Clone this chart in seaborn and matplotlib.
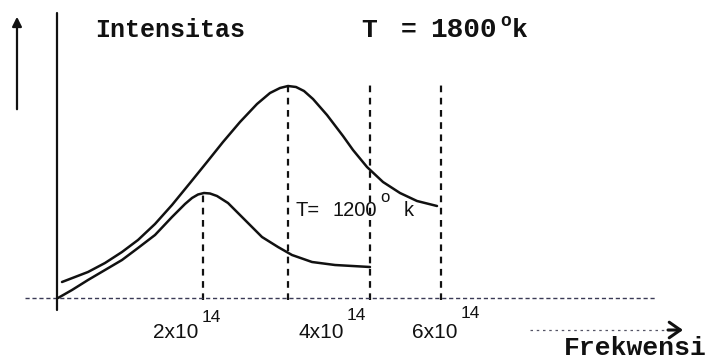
import matplotlib
matplotlib.use("Agg")
import matplotlib.pyplot as plt
import seaborn as sns
import pandas as pd

# chart data (frequency position, intensity)
H = 362
freq_1800 = [62, 88, 105, 122, 138, 155, 172, 190, 207, 223, 240, 257, 270, 280,
             288, 296, 304, 313, 327, 343, 353, 367, 383, 400, 417, 437]
int_1800 = [80, 90, 99, 110, 122, 138, 157, 179, 200, 220, 240, 258, 269, 274,
            276, 275, 271, 263, 247, 226, 212, 195, 180, 169, 161, 156]
freq_1200 = [58, 72, 88, 105, 122, 138, 155, 172, 185, 192, 198, 204, 210, 217,
             228, 245, 262, 278, 292, 312, 335, 370]
int_1200 = [64, 72, 82, 92, 102, 114, 127, 145, 158, 164, 167.5, 169, 168.5, 166,
            159, 142, 125, 115, 107, 100, 97, 95]

# dashed guide lines: position and top height
guide_x = [203, 288, 370, 441]
guide_top = [170, 276, 280, 280]
axis_y = 64

tick_pos = [176, 321, 435]
tick_labels = ["2x10", "4x10", "6x10"]
tick_exp_y = [318, 316, 313]

sns.set_style("white")

fig = plt.figure(figsize=(7.08, 3.62), dpi=100)
ax = fig.add_axes([0, 0, 1, 1])
ax.set_xlim(0, 708)
ax.set_ylim(0, H)
ax.axis("off")

df = pd.concat([
    pd.DataFrame({"f": freq_1800, "I": int_1800, "T": "1800"}),
    pd.DataFrame({"f": freq_1200, "I": int_1200, "T": "1200"}),
])
sns.lineplot(data=df, x="f", y="I", units="T", estimator=None, sort=False,
             color="#111111", linewidth=1.8, ax=ax, legend=False,
             solid_joinstyle="round", solid_capstyle="round")

# dashed verticals
ax.vlines(guide_x, axis_y - 2, guide_top, colors="#111111", linewidth=1.6,
          linestyles=(0, (3, 2.5)))

# axes
ax.plot([25, 655], [axis_y, axis_y], color="#3a3a55", linewidth=1.0,
        linestyle=(0, (3, 2)))
ax.plot([57, 57], [H - 13, H - 310], color="#111111", linewidth=1.6)
ax.annotate("", xy=(17, H - 14), xytext=(17, H - 112),
            arrowprops=dict(arrowstyle="-|>", color="#111111", lw=1.6,
                            mutation_scale=14))
ax.plot([530, 676], [H - 330, H - 330], color="#555566", linewidth=0.9,
        linestyle=(0, (2, 3)))
ax.annotate("", xy=(683, H - 330), xytext=(668, H - 330),
            arrowprops=dict(arrowstyle="->,head_length=0.5,head_width=0.35",
                            color="#111111", lw=2.2, shrinkA=0, shrinkB=0,
                            mutation_scale=16))

mono = dict(family="Liberation Mono", fontweight="bold", color="#111111")
ax.text(95, H - 30, "Intensitas", fontsize=18, ha="left", va="center", **mono)
ax.text(361, H - 30, "T", fontsize=19, ha="left", va="center", **mono)
ax.text(401, H - 30, "=", fontsize=19, ha="left", va="center", **mono)
ax.text(430, H - 30, "1800", fontsize=20, ha="left", va="center", **mono)
ax.text(500, H - 21, "o", fontsize=13, ha="left", va="center", **mono)
ax.text(512, H - 30, "k", fontsize=19, ha="left", va="center", **mono)
ax.text(707, H - 348, "Frekwensi", fontsize=19, ha="right", va="center", **mono)

sans = dict(family="Liberation Sans", color="#111111")
for x, lab, ey in zip(tick_pos, tick_labels, tick_exp_y):
    ax.text(x, H - 333, lab, fontsize=15, ha="center", va="center", **sans)
    ax.text(x + 26, H - ey, "14", fontsize=12.5, ha="left", va="center", **sans)

ax.text(296, H - 211, "T=", fontsize=14.5, ha="left", va="center", **sans)
ax.text(332, H - 211, "1200", fontsize=14.5, ha="left", va="center", **sans)
ax.text(380, H - 198, "o", fontsize=12, ha="left", va="center", **sans)
ax.text(404, H - 211, "k", fontsize=14.5, ha="left", va="center", **sans)

fig.savefig("out.png", dpi=100)
